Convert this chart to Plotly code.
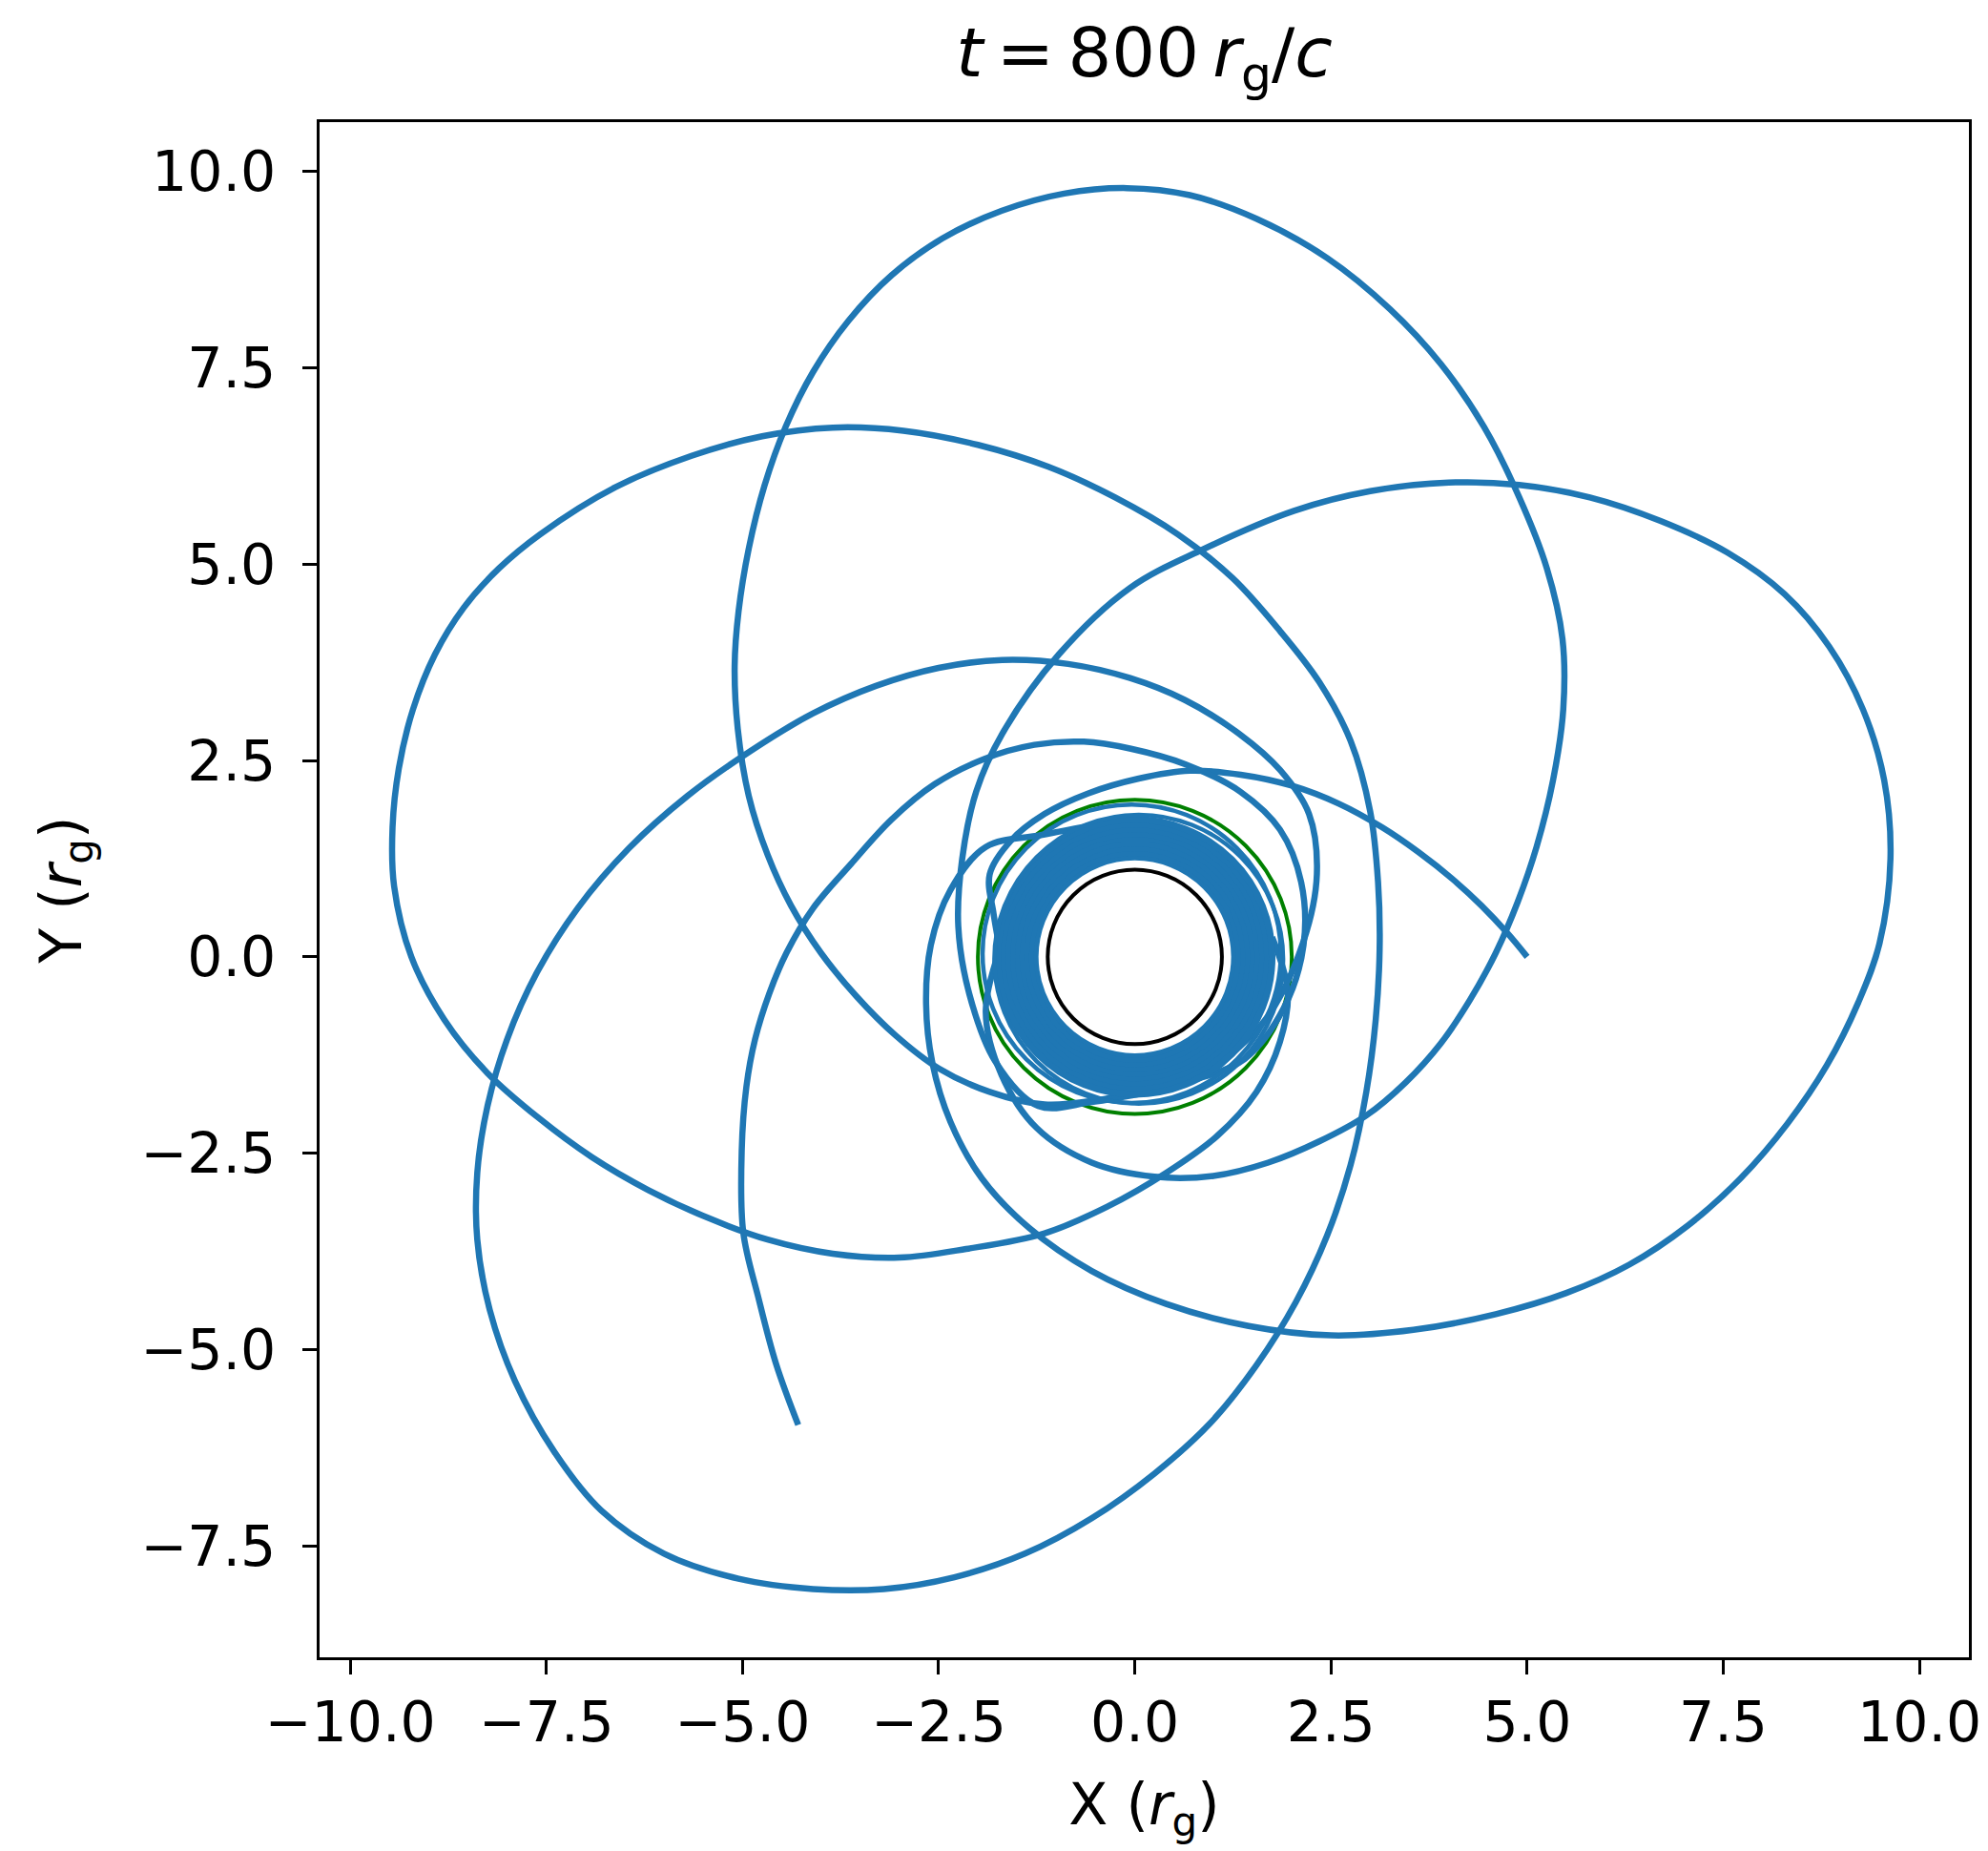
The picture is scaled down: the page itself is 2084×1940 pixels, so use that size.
import plotly.graph_objects as go

# ---------------- data (units of r_g) ----------------
# initial inward leg starting at (5, 0)
seg0_x = [5.00, 4.75, 4.42, 4.05, 3.62, 3.15, 2.60, 2.00, 1.35, 0.70, 0.05, -0.60, -1.15, -1.58, -1.85,
          -1.80, -1.70]
seg0_y = [0.00, 0.30, 0.65, 0.99, 1.33, 1.65, 1.95, 2.18, 2.32, 2.37, 2.27, 2.08, 1.82, 1.48, 1.05,
          0.55, 0.00]

# top petal
seg1_x = [-1.72, -1.90, -1.70, -1.25, -0.55, 0.25, 1.00, 1.70, 2.35, 2.95, 3.45, 3.90, 4.27, 4.60, 4.88,
          5.12, 5.33, 5.46, 5.45, 5.25, 4.90, 4.45, 3.90, 3.25, 2.45, 1.55, 0.70, -0.10,
          -0.90, -1.70, -2.45, -3.10, -3.65, -4.10, -4.45, -4.72, -4.92, -5.05, -5.10, -5.06,
          -4.92, -4.68, -4.38, -4.00, -3.55, -3.05, -2.50, -1.85, -1.15, -0.45, 0.15]
seg1_y = [0.10, -0.70, -1.50, -2.18, -2.62, -2.80, -2.79, -2.62, -2.35, -2.02, -1.60, -1.10, -0.55, 0.05, 0.70,
          1.40, 2.25, 3.15, 4.05, 4.95, 5.85, 6.75, 7.55, 8.25, 8.90, 9.40, 9.70, 9.79,
          9.72, 9.50, 9.15, 8.68, 8.10, 7.45, 6.75, 6.00, 5.20, 4.40, 3.70, 2.90,
          2.05, 1.30, 0.65, 0.05, -0.50, -1.00, -1.42, -1.72, -1.88, -1.82, -1.70]

# bottom-left petal followed by the left petal
seg2_x = [1.10, 1.70, 2.15, 2.32, 2.22, 1.85, 1.33, 0.64, -0.06, -0.85, -1.69, -2.50, -3.30, -4.10, -4.90,
          -5.70, -6.45, -7.10, -7.62, -8.00, -8.25, -8.38, -8.38, -8.22, -7.90, -7.40, -6.80, -6.00,
          -5.05, -4.10, -3.20, -2.30, -1.40, -0.55, 0.25, 0.95, 1.55, 2.05, 2.45, 2.75, 2.95, 3.07,
          3.12, 3.10, 3.00, 2.75, 2.35, 1.85, 1.25, 0.55, -0.25, -1.10, -2.00, -2.95, -3.85, -4.75,
          -5.65, -6.62, -7.58, -8.10, -8.55, -8.92, -9.20, -9.38, -9.46, -9.44, -9.22, -8.80,
          -8.25, -7.60, -6.92, -6.20, -5.45, -4.68, -3.85, -3.00, -2.15, -1.15, -0.35, 0.40, 1.05,
          1.55, 1.85, 1.95, 1.75]
seg2_y = [-1.35, -0.75, 0.20, 1.05, 1.82, 2.38, 2.84, 3.27, 3.55, 3.73, 3.78, 3.68, 3.45, 3.10, 2.62,
          2.05, 1.38, 0.62, -0.20, -1.05, -1.90, -2.75, -3.60, -4.50, -5.40, -6.30, -7.05, -7.60,
          -7.92, -8.05, -8.05, -7.90, -7.60, -7.15, -6.58, -5.95, -5.20, -4.40, -3.55, -2.65, -1.72, -0.80,
          0.10, 0.95, 1.85, 2.75, 3.50, 4.15, 4.82, 5.38, 5.85, 6.24, 6.52, 6.70, 6.74, 6.63,
          6.38, 5.98, 5.38, 4.95, 4.45, 3.85, 3.15, 2.40, 1.65, 0.90, 0.00, -0.80,
          -1.48, -2.05, -2.55, -2.97, -3.32, -3.60, -3.78, -3.83, -3.72, -3.52, -3.18, -2.75, -2.28,
          -1.72, -1.08, -0.45, 0.25]

# right petal
seg3_x = [-0.40, -1.20, -1.90, -2.35, -2.60, -2.66, -2.58, -2.35, -1.95, -1.35, -0.55, 0.40, 1.45, 2.50, 3.55,
          4.60, 5.50, 6.30, 7.05, 7.72, 8.32, 8.82, 9.22, 9.49, 9.63, 9.55, 9.28, 8.85, 8.28, 7.55,
          6.70, 5.80, 4.90, 4.00, 3.00, 2.03, 0.87, -0.06, -0.97, -1.69, -2.02, -2.20, -2.25, -2.11,
          -1.78, -1.23, -0.55, 0.20]
seg3_y = [1.70, 1.55, 1.40, 0.85, 0.15, -0.60, -1.35, -2.10, -2.82, -3.45, -4.00, -4.42, -4.70, -4.82, -4.75,
          -4.55, -4.28, -3.92, -3.42, -2.82, -2.12, -1.38, -0.58, 0.17, 1.25, 2.25, 3.15, 3.95, 4.62, 5.15,
          5.55, 5.85, 6.01, 6.04, 5.93, 5.68, 5.19, 4.70, 3.85, 2.84, 2.11, 1.25, 0.39, -0.47,
          -1.33, -1.90, -1.85, -1.72]

# final outgoing leg, ending at the position at t = 800
seg4_x = [0.80, 1.40, 1.90, 2.15, 2.12, 1.85, 1.35, 0.65, -0.05, -0.65, -1.28, -1.92, -2.55, -3.10, -3.62,
          -4.10, -4.44, -4.66, -4.84, -4.95, -5.01, -4.99, -4.80, -4.57, -4.29]
seg4_y = [-1.55, -1.30, -0.65, 0.15, 0.95, 1.62, 2.10, 2.45, 2.65, 2.74, 2.70, 2.52, 2.20, 1.75, 1.18,
          0.62, 0.05, -0.47, -1.05, -1.65, -2.47, -3.51, -4.33, -5.19, -5.96]

# whirl loops near the hole: radii and centre offsets
whirl_r = [1.27, 1.33, 1.39, 1.45, 1.51, 1.57, 1.63, 1.69, 1.75]
outer_loop_r = [1.84, 1.90]
outer_loop_cx = [0.05, -0.04]
outer_loop_cy = [-0.03, 0.04]

horizon_r = 1.11
ergo_r = 2.0

x_ticks = [-10.0, -7.5, -5.0, -2.5, 0.0, 2.5, 5.0, 7.5, 10.0]
x_tick_labels = ["\u221210.0", "\u22127.5", "\u22125.0", "\u22122.5", "0.0", "2.5", "5.0", "7.5", "10.0"]
y_ticks = [-7.5, -5.0, -2.5, 0.0, 2.5, 5.0, 7.5, 10.0]
y_tick_labels = ["\u22127.5", "\u22125.0", "\u22122.5", "0.0", "2.5", "5.0", "7.5", "10.0"]

x_range = [-10.39, 10.63]
y_range = [-8.92, 10.63]

BLUE = "#1f77b4"
FONT = "DejaVu Sans"

# ---------------- figure ----------------
orbit_x, orbit_y = [], []
for sx, sy in [(seg0_x, seg0_y), (seg1_x, seg1_y), (seg2_x, seg2_y), (seg3_x, seg3_y), (seg4_x, seg4_y)]:
    orbit_x += sx + [None]
    orbit_y += sy + [None]

fig = go.Figure()
fig.add_trace(go.Scatter(x=orbit_x, y=orbit_y, mode="lines",
                         line=dict(color=BLUE, width=6.5, shape="spline", smoothing=1.0),
                         connectgaps=False, hoverinfo="skip"))

shapes = []
# ergosphere (below the orbit)
shapes.append(dict(type="circle", xref="x", yref="y", x0=-ergo_r, y0=-ergo_r, x1=ergo_r, y1=ergo_r,
                   line=dict(color="green", width=4), layer="below"))
for r in whirl_r:
    shapes.append(dict(type="circle", xref="x", yref="y", x0=-r, y0=-r, x1=r, y1=r,
                       line=dict(color=BLUE, width=7), layer="above"))
for r, cx, cy in zip(outer_loop_r, outer_loop_cx, outer_loop_cy):
    shapes.append(dict(type="circle", xref="x", yref="y", x0=cx - r, y0=cy - r, x1=cx + r, y1=cy + r,
                       line=dict(color=BLUE, width=4.5), layer="above"))
shapes.append(dict(type="circle", xref="x", yref="y", x0=-horizon_r, y0=-horizon_r, x1=horizon_r,
                   y1=horizon_r, line=dict(color="black", width=4), layer="above"))

axis_common = dict(showgrid=False, zeroline=False, showline=True, linecolor="black", linewidth=3,
                   mirror=True, ticks="outside", ticklen=15, tickwidth=3, tickcolor="black",
                   tickfont=dict(family=FONT, size=58.5, color="black"))

fig.update_layout(
    width=2084, height=1940, autosize=False,
    margin=dict(l=327, r=28, t=120, b=211),
    paper_bgcolor="white", plot_bgcolor="white", showlegend=False,
    shapes=shapes,
    title=dict(text="<i>t</i>\u2009=\u2009800\u2009<i>r</i><sub>g</sub>/<i>c</i>",
               font=dict(family=FONT, size=72, color="black"),
               x=0.5, xref="paper", xanchor="center", y=1 - 47 / 1940, yref="container", yanchor="middle"),
    xaxis=dict(range=x_range, tickvals=x_ticks, ticktext=x_tick_labels,
               title=dict(text="X (<i>r</i><sub>g</sub>)", font=dict(family=FONT, size=60, color="black"),
                          standoff=32),
               **axis_common),
    yaxis=dict(range=y_range, tickvals=y_ticks, ticktext=y_tick_labels, ticklabelstandoff=16,
               title=dict(text="Y (<i>r</i><sub>g</sub>)", font=dict(family=FONT, size=60, color="black"),
                          standoff=43),
               **axis_common),
)

fig.write_html("out.html")
